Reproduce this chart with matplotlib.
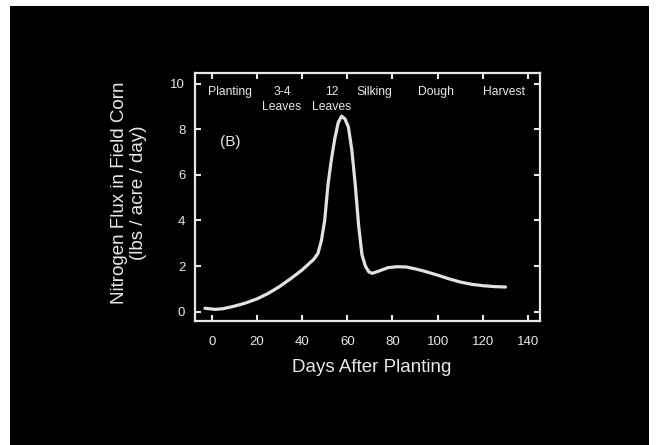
import matplotlib
matplotlib.use("Agg")
import matplotlib.pyplot as plt
from matplotlib.patches import Rectangle

# ---- data ----
days = [-3, 1.5, 5, 10, 15, 20, 25, 30, 35, 40, 45, 47, 48.5, 50, 51.5, 53,
        54.5, 56, 57.5, 59, 60.5, 62, 63.5, 65, 66.5, 68, 69.5, 71, 74, 78,
        82, 86, 90, 95, 100, 105, 110, 115, 120, 125, 130]
flux = [0.15, 0.1, 0.13, 0.24, 0.38, 0.56, 0.8, 1.1, 1.45, 1.83, 2.28, 2.55,
        3.1, 4.0, 5.6, 6.7, 7.6, 8.3, 8.58, 8.45, 8.1, 7.1, 5.6, 3.8, 2.5,
        2.0, 1.75, 1.68, 1.78, 1.93, 1.97, 1.96, 1.88, 1.75, 1.6, 1.44, 1.3,
        1.2, 1.14, 1.1, 1.08]

stage_labels = ["Planting", "3-4\nLeaves", "12\nLeaves", "Silking", "Dough", "Harvest"]
stage_days = [8.1, 31.1, 53.1, 71.9, 99.3, 129.3]

x_ticks = [0, 20, 40, 60, 80, 100, 120, 140]
y_ticks = [0, 2, 4, 6, 8, 10]

FG = "#e8e8e8"
plt.rcParams['font.family'] = ['Liberation Sans', 'DejaVu Sans']

fig = plt.figure(figsize=(6.57, 4.45), dpi=100, facecolor="white")
fig.patches.append(Rectangle((10 / 657, 0), 639 / 657, 439 / 445,
                             transform=fig.transFigure, facecolor="black",
                             edgecolor="none", zorder=-10))

ax = fig.add_axes([195 / 657, 1 - 321 / 445, 345 / 657, 248 / 445])
ax.set_facecolor("black")
ax.plot(days, flux, color="#e2e2e2", lw=2.3, solid_capstyle="round")

ax.set_xlim(-7.4, 145.3)
ax.set_ylim(-0.41, 10.47)
ax.set_xticks(x_ticks)
ax.set_yticks(y_ticks)
ax.tick_params(direction="in", length=4.3, width=1.5, color=FG,
               top=True, right=True, labelcolor=FG, labelsize=9.5)
ax.tick_params(axis="x", pad=11)
ax.tick_params(axis="y", pad=7)
for s in ax.spines.values():
    s.set_color(FG)
    s.set_linewidth(1.6)

line_y = [9.65, 8.99]
for lab, d in zip(stage_labels, stage_days):
    for i, part in enumerate(lab.split("\n")):
        ax.text(d, line_y[i], part, color=FG, fontsize=8.7,
                ha="center", va="center")

ax.text(8.1, 7.46, "(B)", color=FG, fontsize=11, ha="center", va="center")

fig.text(129 / 657, 1 - 193 / 445, "Nitrogen Flux in Field Corn\n(lbs / acre / day)",
         rotation=90, ha="center", va="center", multialignment="center",
         color=FG, fontsize=13.5, linespacing=1.15)
fig.text(372 / 657, 1 - 367 / 445, "Days After Planting", ha="center",
         va="center", color=FG, fontsize=13.5)

fig.savefig("out.png", dpi=100, facecolor="white")
